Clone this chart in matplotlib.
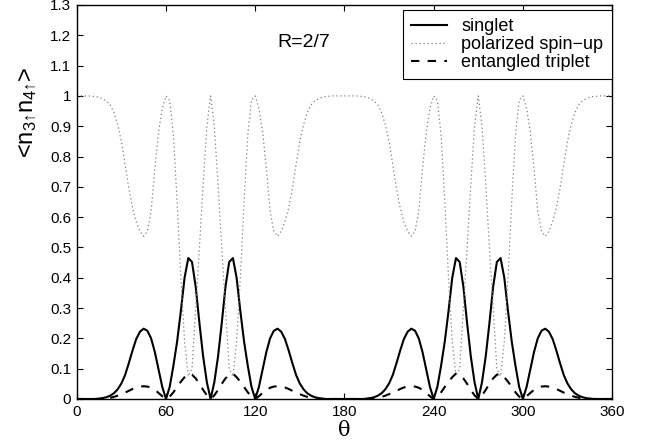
import numpy as np
import matplotlib
matplotlib.use("Agg")
import matplotlib.pyplot as plt

plt.rcParams['font.family'] = ['Liberation Sans', 'DejaVu Sans']
plt.rcParams['mathtext.fontset'] = 'custom'
plt.rcParams['mathtext.rm'] = 'Liberation Sans'
plt.rcParams['mathtext.default'] = 'regular'

# theta grid, degrees (2.5 deg steps)
theta = np.arange(0, 360.01, 2.5)

# values, 0..177.5, 180..357.5, then 360
singlet = [
    0, 0, 0, 0, 0, 0, 0.001, 0.003, 0.006, 0.011, 0.019, 0.032, 0.051,
    0.079, 0.118, 0.16, 0.198, 0.222, 0.232, 0.225, 0.2, 0.155, 0.097, 0.04,
    0, 0.04, 0.11, 0.19, 0.29, 0.4, 0.465, 0.452, 0.37, 0.25, 0.14, 0.055,
    0, 0.055, 0.14, 0.25, 0.37, 0.452, 0.465, 0.4, 0.29, 0.19, 0.11, 0.04,
    0, 0.04, 0.097, 0.155, 0.2, 0.225, 0.232, 0.222, 0.198, 0.16, 0.118,
    0.079, 0.051, 0.032, 0.019, 0.011, 0.006, 0.003, 0.001, 0, 0, 0, 0, 0,
    0, 0, 0, 0, 0, 0, 0.001, 0.003, 0.006, 0.011, 0.019, 0.032, 0.051,
    0.079, 0.118, 0.16, 0.198, 0.222, 0.232, 0.225, 0.2, 0.155, 0.097, 0.04,
    0, 0.04, 0.11, 0.19, 0.29, 0.4, 0.465, 0.452, 0.37, 0.25, 0.14, 0.055,
    0, 0.055, 0.14, 0.25, 0.37, 0.452, 0.465, 0.4, 0.29, 0.19, 0.11, 0.04,
    0, 0.04, 0.097, 0.155, 0.2, 0.225, 0.232, 0.222, 0.198, 0.16, 0.118,
    0.079, 0.051, 0.032, 0.019, 0.011, 0.006, 0.003, 0.001, 0, 0, 0, 0, 0,
    0,
]

polarized = [
    1, 1, 1, 1, 0.999, 0.998, 0.996, 0.99, 0.983, 0.97, 0.945, 0.905, 0.85,
    0.775, 0.695, 0.63, 0.585, 0.553, 0.537, 0.553, 0.62, 0.76, 0.88, 0.958,
    1, 0.985, 0.87, 0.65, 0.4, 0.19, 0.075, 0.1, 0.3, 0.5, 0.71, 0.9,
    1, 0.9, 0.71, 0.5, 0.3, 0.1, 0.075, 0.19, 0.4, 0.65, 0.87, 0.985,
    1, 0.958, 0.88, 0.76, 0.62, 0.553, 0.537, 0.553, 0.585, 0.63, 0.695,
    0.775, 0.85, 0.905, 0.945, 0.97, 0.983, 0.99, 0.996, 0.998, 0.999, 1, 1, 1,
    1, 1, 1, 1, 0.999, 0.998, 0.996, 0.99, 0.983, 0.97, 0.945, 0.905, 0.85,
    0.775, 0.695, 0.63, 0.585, 0.553, 0.537, 0.553, 0.62, 0.76, 0.88, 0.958,
    1, 0.985, 0.87, 0.65, 0.4, 0.19, 0.075, 0.1, 0.3, 0.5, 0.71, 0.9,
    1, 0.9, 0.71, 0.5, 0.3, 0.1, 0.075, 0.19, 0.4, 0.65, 0.87, 0.985,
    1, 0.958, 0.88, 0.76, 0.62, 0.553, 0.537, 0.553, 0.585, 0.63, 0.695,
    0.775, 0.85, 0.905, 0.945, 0.97, 0.983, 0.99, 0.996, 0.998, 0.999, 1, 1, 1,
    1,
]

triplet = [
    0, 0, 0, 0, 0, 0, 0.0005, 0.001, 0.002, 0.004, 0.007, 0.011, 0.016,
    0.021, 0.027, 0.033, 0.038, 0.041, 0.042, 0.041, 0.037, 0.03, 0.02, 0.009,
    0, 0.008, 0.022, 0.04, 0.057, 0.072, 0.084, 0.08, 0.068, 0.05, 0.03, 0.012,
    0, 0.012, 0.03, 0.05, 0.068, 0.08, 0.084, 0.072, 0.057, 0.04, 0.022, 0.008,
    0, 0.009, 0.02, 0.03, 0.037, 0.041, 0.042, 0.041, 0.038, 0.033, 0.027,
    0.021, 0.016, 0.011, 0.007, 0.004, 0.002, 0.001, 0.0005, 0, 0, 0, 0, 0,
    0, 0, 0, 0, 0, 0, 0.0005, 0.001, 0.002, 0.004, 0.007, 0.011, 0.016,
    0.021, 0.027, 0.033, 0.038, 0.041, 0.042, 0.041, 0.037, 0.03, 0.02, 0.009,
    0, 0.008, 0.022, 0.04, 0.057, 0.072, 0.084, 0.08, 0.068, 0.05, 0.03, 0.012,
    0, 0.012, 0.03, 0.05, 0.068, 0.08, 0.084, 0.072, 0.057, 0.04, 0.022, 0.008,
    0, 0.009, 0.02, 0.03, 0.037, 0.041, 0.042, 0.041, 0.038, 0.033, 0.027,
    0.021, 0.016, 0.011, 0.007, 0.004, 0.002, 0.001, 0.0005, 0, 0, 0, 0, 0,
    0,
]

xticks = [0, 60, 120, 180, 240, 300, 360]
yticks = [0, 0.1, 0.2, 0.3, 0.4, 0.5, 0.6, 0.7, 0.8, 0.9, 1, 1.1, 1.2, 1.3]
ytick_labels = ['0', '0.1', '0.2', '0.3', '0.4', '0.5', '0.6', '0.7', '0.8',
                '0.9', '1', '1.1', '1.2', '1.3']

fig = plt.figure(figsize=(6.45, 4.45), dpi=100)
ax = fig.add_axes([0.119, 0.1034, 0.830, 0.8854])

ax.plot(theta, singlet, color='black', lw=1.5, label='singlet')
ax.plot(theta, polarized, color='0.5', lw=0.9, ls=(0, (1, 2.2)),
        label='polarized spin\u2212up')
ax.plot(theta, triplet, color='black', lw=1.5, ls=(0, (4, 4)),
        label='entangled triplet')

ax.set_xlim(0, 360)
ax.set_ylim(0, 1.3)
ax.set_xticks(xticks)
ax.set_xticklabels([str(t) for t in xticks])
ax.set_yticks(yticks)
ax.set_yticklabels(ytick_labels)
ax.tick_params(direction='in', top=True, right=True, length=4, width=0.8,
               labelsize=11, pad=4)
for s in ax.spines.values():
    s.set_linewidth(1.0)

ax.text(135, 1.175, 'R=2/7', fontsize=14, va='center', ha='left')

ax.set_xlabel('\u03b8', fontsize=15, family=['DejaVu Serif'], labelpad=2)
ax.set_ylabel('<n$_{3\u2191}$n$_{4\u2191}$>', fontsize=17)
ax.yaxis.set_label_coords(-0.07, 0.728)

leg = ax.legend(loc='upper right', bbox_to_anchor=(0.999, 0.987),
                fontsize=13, fancybox=False, framealpha=1, edgecolor='black',
                borderaxespad=0, handlelength=2.0, borderpad=0.45,
                labelspacing=0.05, handletextpad=0.8)
leg.get_frame().set_linewidth(0.8)

fig.savefig('out.png', dpi=100)
